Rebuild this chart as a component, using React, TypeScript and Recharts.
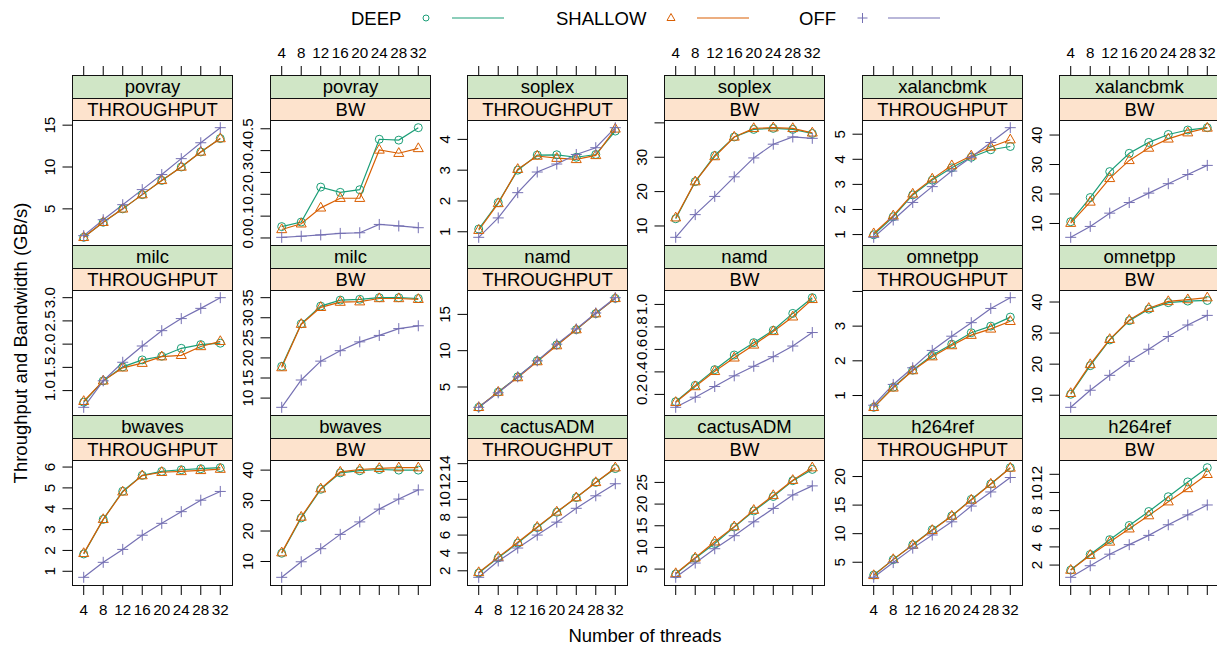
import { Line, LineChart, XAxis, YAxis } from "recharts";

const threads = [4, 8, 12, 16, 20, 24, 28, 32];

const povrayThrDeep = [1.6, 3.4, 5.0, 6.7, 8.4, 10.0, 11.8, 13.4];
const povrayThrShallow = [1.6, 3.4, 5.0, 6.7, 8.4, 10.0, 11.8, 13.4];
const povrayThrOff = [1.8, 3.7, 5.5, 7.3, 9.1, 11.0, 12.9, 14.7];
const povrayBwDeep = [0.052, 0.073, 0.233, 0.209, 0.221, 0.452, 0.448, 0.505];
const povrayBwShallow = [0.039, 0.065, 0.138, 0.182, 0.182, 0.403, 0.388, 0.41];
const povrayBwOff = [0.003, 0.008, 0.014, 0.021, 0.024, 0.062, 0.055, 0.047];

const soplexThrDeep = [1.09, 1.95, 3.0, 3.49, 3.5, 3.42, 3.51, 4.27];
const soplexThrShallow = [1.05, 1.92, 3.03, 3.46, 3.39, 3.35, 3.48, 4.34];
const soplexThrOff = [0.82, 1.45, 2.27, 2.94, 3.2, 3.51, 3.73, 4.38];
const soplexBwDeep = [12.1, 22.9, 30.5, 35.9, 38.1, 38.4, 38.1, 36.9];
const soplexBwShallow = [12.4, 22.9, 30.2, 35.9, 38.4, 38.6, 38.4, 37.1];
const soplexBwOff = [6.7, 13.3, 18.6, 24.3, 29.8, 33.8, 35.9, 35.5];

const xalanThrDeep = [0.99, 1.71, 2.58, 3.17, 3.66, 4.08, 4.38, 4.51];
const xalanThrShallow = [1.04, 1.75, 2.62, 3.22, 3.75, 4.14, 4.49, 4.78];
const xalanThrOff = [0.89, 1.58, 2.28, 2.91, 3.53, 4.08, 4.67, 5.26];
const xalanBwDeep = [10.6, 18.8, 27.6, 33.8, 37.5, 40.2, 41.7, 42.5];
const xalanBwShallow = [10.1, 17.3, 25.3, 31.4, 35.6, 38.7, 40.8, 42.4];
const xalanBwOff = [5.3, 9.0, 13.5, 17.1, 20.3, 23.5, 26.6, 29.7];

const milcThrDeep = [0.75, 1.21, 1.51, 1.66, 1.74, 1.91, 1.99, 2.02];
const milcThrShallow = [0.77, 1.21, 1.49, 1.59, 1.73, 1.76, 1.95, 2.06];
const milcThrOff = [0.64, 1.21, 1.61, 1.96, 2.29, 2.55, 2.77, 3.0];
const milcBwDeep = [17.9, 28.5, 32.9, 34.4, 34.6, 35.0, 35.0, 34.8];
const milcBwShallow = [17.6, 28.4, 32.6, 33.9, 34.0, 34.8, 34.8, 34.6];
const milcBwOff = [7.7, 14.5, 19.2, 21.8, 24.0, 25.6, 27.3, 28.0];

const namdThrDeep = [2.2, 4.3, 6.4, 8.6, 10.8, 12.9, 15.1, 17.2];
const namdThrShallow = [2.2, 4.3, 6.3, 8.5, 10.7, 12.9, 15.1, 17.2];
const namdThrOff = [2.2, 4.2, 6.4, 8.6, 10.9, 13.0, 15.2, 17.3];
const namdBwDeep = [0.135, 0.28, 0.42, 0.55, 0.66, 0.77, 0.92, 1.06];
const namdBwShallow = [0.13, 0.27, 0.405, 0.525, 0.64, 0.76, 0.89, 1.045];
const namdBwOff = [0.085, 0.175, 0.27, 0.365, 0.45, 0.535, 0.63, 0.75];

const omnetThrDeep = [0.66, 1.24, 1.73, 2.16, 2.48, 2.81, 3.0, 3.26];
const omnetThrShallow = [0.66, 1.22, 1.72, 2.12, 2.44, 2.74, 2.92, 3.14];
const omnetThrOff = [0.72, 1.32, 1.8, 2.3, 2.71, 3.1, 3.51, 3.82];
const omnetBwDeep = [10.3, 19.5, 27.8, 34.0, 37.7, 39.8, 40.3, 40.5];
const omnetBwShallow = [10.6, 19.9, 28.0, 34.2, 38.0, 40.2, 40.8, 41.4];
const omnetBwOff = [6.1, 11.6, 16.4, 20.9, 24.8, 28.9, 32.6, 35.7];

const bwavesThrDeep = [1.83, 3.49, 4.84, 5.6, 5.79, 5.87, 5.92, 5.97];
const bwavesThrShallow = [1.86, 3.49, 4.81, 5.59, 5.75, 5.79, 5.84, 5.9];
const bwavesThrOff = [0.71, 1.43, 2.05, 2.73, 3.3, 3.86, 4.41, 4.83];
const bwavesBwDeep = [12.7, 24.3, 33.7, 39.1, 39.8, 40.2, 40.0, 40.0];
const bwavesBwShallow = [12.9, 24.6, 33.9, 39.4, 40.2, 40.6, 40.8, 40.8];
const bwavesBwOff = [4.8, 9.9, 14.2, 18.9, 23.0, 27.2, 30.5, 33.5];

const cactusThrDeep = [1.75, 3.45, 5.1, 6.84, 8.55, 10.2, 11.9, 13.45];
const cactusThrShallow = [1.82, 3.53, 5.2, 6.9, 8.6, 10.2, 11.9, 13.55];
const cactusThrOff = [1.27, 3.1, 4.55, 6.0, 7.45, 9.0, 10.4, 11.75];
const cactusBwDeep = [3.87, 7.5, 10.9, 14.7, 18.4, 21.75, 25.4, 28.0];
const cactusBwShallow = [4.0, 7.6, 11.3, 14.8, 18.6, 22.0, 25.5, 28.4];
const cactusBwOff = [3.1, 6.4, 9.7, 12.7, 15.9, 19.0, 22.1, 24.2];

const h264ThrDeep = [2.76, 5.46, 8.05, 10.7, 13.1, 16.0, 18.7, 21.55];
const h264ThrShallow = [2.7, 5.5, 8.0, 10.6, 13.1, 15.9, 18.7, 21.5];
const h264ThrOff = [2.36, 4.94, 7.47, 9.77, 12.07, 14.83, 17.3, 19.83];
const h264BwDeep = [1.45, 3.16, 4.8, 6.36, 7.9, 9.53, 11.16, 12.73];
const h264BwShallow = [1.45, 3.09, 4.55, 6.0, 7.45, 8.98, 10.44, 12.0];
const h264BwOff = [0.65, 1.93, 3.2, 4.25, 5.27, 6.44, 7.53, 8.62];

// y tick values per panel
const povrayThrTicks = [5, 10, 15];
const povrayBwTicks = [0, 0.1, 0.2, 0.3, 0.4, 0.5];
const soplexThrTicks = [1, 2, 3, 4];
const soplexBwTicks = [10, 20, 30, 40];
const xalanThrTicks = [1, 2, 3, 4, 5];
const xalanBwTicks = [10, 20, 30, 40];
const milcThrTicks = [1, 1.5, 2, 2.5, 3];
const milcBwTicks = [10, 15, 20, 25, 30, 35];
const namdThrTicks = [5, 10, 15];
const namdBwTicks = [0.2, 0.4, 0.6, 0.8, 1];
const omnetThrTicks = [1, 2, 3, 4];
const omnetBwTicks = [10, 20, 30, 40];
const bwavesThrTicks = [1, 2, 3, 4, 5, 6];
const bwavesBwTicks = [10, 20, 30, 40];
const cactusThrTicks = [2, 4, 6, 8, 10, 12, 14];
const cactusBwTicks = [5, 10, 15, 20, 25];
const h264ThrTicks = [5, 10, 15, 20];
const h264BwTicks = [2, 4, 6, 8, 10, 12];

const DEEP_COL = "#1B9E77";
const SHALLOW_COL = "#D95F02";
const OFF_COL = "#7570B3";
const STRIP_TOP = "#D0E6C6";
const STRIP_BOT = "#FDE3CD";
const FONT = '"Liberation Sans", Arial, Helvetica, sans-serif';
const TICK_FS = 15.2;
const BASE_FS = 18.5;

const COL_X = [72, 270, 467, 664, 862, 1059];
const ROW_Y = [75, 245, 415];
const PLOT_W = 160;
const PLOT_H = 125;
const STRIPS_H = 45;
const TOP_SPACE = 35;
const BOTTOM_SPACE = 40;
const Y_W = 60;
const X_DOMAIN = [1.6, 34.4];

interface PanelDef {
  name: string;
  metric: string;
  deep: number[];
  shallow: number[];
  off: number[];
  ticks: number[];
  unlabeled?: number[];
}

const panels: PanelDef[] = [
  { name: "povray", metric: "THROUGHPUT", deep: povrayThrDeep, shallow: povrayThrShallow, off: povrayThrOff, ticks: povrayThrTicks },
  { name: "povray", metric: "BW", deep: povrayBwDeep, shallow: povrayBwShallow, off: povrayBwOff, ticks: povrayBwTicks },
  { name: "soplex", metric: "THROUGHPUT", deep: soplexThrDeep, shallow: soplexThrShallow, off: soplexThrOff, ticks: soplexThrTicks },
  { name: "soplex", metric: "BW", deep: soplexBwDeep, shallow: soplexBwShallow, off: soplexBwOff, ticks: soplexBwTicks, unlabeled: [40] },
  { name: "xalancbmk", metric: "THROUGHPUT", deep: xalanThrDeep, shallow: xalanThrShallow, off: xalanThrOff, ticks: xalanThrTicks },
  { name: "xalancbmk", metric: "BW", deep: xalanBwDeep, shallow: xalanBwShallow, off: xalanBwOff, ticks: xalanBwTicks },
  { name: "milc", metric: "THROUGHPUT", deep: milcThrDeep, shallow: milcThrShallow, off: milcThrOff, ticks: milcThrTicks },
  { name: "milc", metric: "BW", deep: milcBwDeep, shallow: milcBwShallow, off: milcBwOff, ticks: milcBwTicks },
  { name: "namd", metric: "THROUGHPUT", deep: namdThrDeep, shallow: namdThrShallow, off: namdThrOff, ticks: namdThrTicks },
  { name: "namd", metric: "BW", deep: namdBwDeep, shallow: namdBwShallow, off: namdBwOff, ticks: namdBwTicks },
  { name: "omnetpp", metric: "THROUGHPUT", deep: omnetThrDeep, shallow: omnetThrShallow, off: omnetThrOff, ticks: omnetThrTicks, unlabeled: [4] },
  { name: "omnetpp", metric: "BW", deep: omnetBwDeep, shallow: omnetBwShallow, off: omnetBwOff, ticks: omnetBwTicks },
  { name: "bwaves", metric: "THROUGHPUT", deep: bwavesThrDeep, shallow: bwavesThrShallow, off: bwavesThrOff, ticks: bwavesThrTicks },
  { name: "bwaves", metric: "BW", deep: bwavesBwDeep, shallow: bwavesBwShallow, off: bwavesBwOff, ticks: bwavesBwTicks },
  { name: "cactusADM", metric: "THROUGHPUT", deep: cactusThrDeep, shallow: cactusThrShallow, off: cactusThrOff, ticks: cactusThrTicks },
  { name: "cactusADM", metric: "BW", deep: cactusBwDeep, shallow: cactusBwShallow, off: cactusBwOff, ticks: cactusBwTicks },
  { name: "h264ref", metric: "THROUGHPUT", deep: h264ThrDeep, shallow: h264ThrShallow, off: h264ThrOff, ticks: h264ThrTicks },
  { name: "h264ref", metric: "BW", deep: h264BwDeep, shallow: h264BwShallow, off: h264BwOff, ticks: h264BwTicks },
];

const circleDot = (props: any) => (
  <circle key={`c${props.index}`} cx={props.cx} cy={props.cy} r={4} fill="none" stroke={DEEP_COL} strokeWidth={1} />
);

const triangleDot = (props: any) => {
  const { cx, cy } = props;
  return (
    <path
      key={`t${props.index}`}
      d={`M${cx},${cy - 5.6} L${cx + 5},${cy + 3.2} L${cx - 5},${cy + 3.2} Z`}
      fill="none"
      stroke={SHALLOW_COL}
      strokeWidth={1}
    />
  );
};

const plusDot = (props: any) => {
  const { cx, cy } = props;
  return (
    <path
      key={`p${props.index}`}
      d={`M${cx - 5.5},${cy} H${cx + 5.5} M${cx},${cy - 5.5} V${cy + 5.5}`}
      stroke={OFF_COL}
      strokeWidth={1}
    />
  );
};

const Panel = ({ p, idx }: { p: PanelDef; idx: number }) => {
  const row = Math.floor(idx / 6);
  const col = idx % 6;
  const data = threads.map((t, i) => ({ t, deep: p.deep[i], shallow: p.shallow[i], off: p.off[i] }));
  const all = [...p.deep, ...p.shallow, ...p.off];
  const lo = Math.min(...all);
  const hi = Math.max(...all);
  const pad = (hi - lo) * 0.07;
  const decimals = p.ticks.some((v) => !Number.isInteger(v)) ? 1 : 0;
  const plotTop = TOP_SPACE + STRIPS_H;
  const plotBottom = plotTop + PLOT_H;
  const left = COL_X[col];
  const top = ROW_Y[row];
  const xLabels = row === 0 ? col % 2 === 1 : col % 2 === 0;

  const yTick = (tp: any) => {
    const v = tp.payload.value;
    const show = !(p.unlabeled || []).includes(v);
    return (
      <g key={`y${v}`}>
        <line x1={Y_W - 9.5} x2={Y_W} y1={tp.y} y2={tp.y} stroke="#000" strokeWidth={1} />
        {show && (
          <text
            x={Y_W - 17}
            y={tp.y}
            transform={`rotate(-90 ${Y_W - 17} ${tp.y})`}
            textAnchor="middle"
            fontSize={TICK_FS}
            fontFamily={FONT}
            fill="#000"
          >
            {v.toFixed(decimals)}
          </text>
        )}
      </g>
    );
  };

  const xTick = (tp: any) => {
    const v = tp.payload.value;
    const onTop = row === 0;
    const y1 = onTop ? TOP_SPACE - 9 : plotBottom;
    const y2 = onTop ? TOP_SPACE : plotBottom + 10;
    const ty = onTop ? TOP_SPACE - 17 : plotBottom + 30;
    return (
      <g key={`x${v}`}>
        <line x1={tp.x} x2={tp.x} y1={y1} y2={y2} stroke="#000" strokeWidth={1} />
        {xLabels && (
          <text x={tp.x} y={ty} textAnchor="middle" fontSize={TICK_FS} fontFamily={FONT} fill="#000">
            {v}
          </text>
        )}
      </g>
    );
  };

  const topAxisH = 20;
  const margin = {
    top: row === 0 ? plotTop - topAxisH : plotTop,
    right: 1,
    left: 0,
    bottom: row === 2 ? 0 : BOTTOM_SPACE,
  };

  return (
    <>
      <div
        style={{
          position: "absolute",
          left,
          top,
          width: PLOT_W + 1,
          height: STRIPS_H + PLOT_H + 1,
          boxSizing: "border-box",
          border: "1px solid #111",
          fontFamily: FONT,
          fontSize: BASE_FS,
          color: "#000",
          textAlign: "center",
        }}
      >
        <div style={{ height: 22, lineHeight: "22px", background: STRIP_TOP, borderBottom: "1px solid #111" }}>
          {p.name}
        </div>
        <div style={{ height: 21, lineHeight: "22px", background: STRIP_BOT, borderBottom: "1px solid #111" }}>
          {p.metric}
        </div>
      </div>
      <div style={{ position: "absolute", left: left - Y_W, top: top - TOP_SPACE }}>
        <LineChart
          width={Y_W + PLOT_W + 1}
          height={TOP_SPACE + STRIPS_H + PLOT_H + BOTTOM_SPACE}
          data={data}
          margin={margin}
        >
          <XAxis
            dataKey="t"
            type="number"
            domain={X_DOMAIN}
            ticks={threads}
            interval={0}
            orientation={row === 0 ? "top" : "bottom"}
            hide={row === 1}
            height={row === 0 ? topAxisH : BOTTOM_SPACE}
            axisLine={false}
            tickLine={false}
            tick={xTick}
            allowDataOverflow
          />
          <YAxis
            type="number"
            domain={[lo - pad, hi + pad]}
            ticks={p.ticks}
            interval={0}
            width={Y_W}
            axisLine={false}
            tickLine={false}
            tick={yTick}
            allowDataOverflow
          />
          <Line dataKey="deep" stroke={DEEP_COL} strokeWidth={1.2} dot={circleDot} isAnimationActive={false} />
          <Line dataKey="shallow" stroke={SHALLOW_COL} strokeWidth={1.2} dot={triangleDot} isAnimationActive={false} />
          <Line dataKey="off" stroke={OFF_COL} strokeWidth={1.2} dot={plusDot} isAnimationActive={false} />
        </LineChart>
      </div>
    </>
  );
};

const Legend = () => (
  <g fontFamily={FONT} fontSize={BASE_FS} fill="#000">
    <text x={351} y={25}>DEEP</text>
    <circle cx={426} cy={18} r={3} fill="none" stroke={DEEP_COL} strokeWidth={1} />
    <line x1={452} x2={504} y1={18} y2={18} stroke={DEEP_COL} strokeWidth={1.2} />
    <text x={556} y={25}>SHALLOW</text>
    <path d="M671,13.5 L675,20.5 L667,20.5 Z" fill="none" stroke={SHALLOW_COL} strokeWidth={1} />
    <line x1={697} x2={749} y1={18} y2={18} stroke={SHALLOW_COL} strokeWidth={1.2} />
    <text x={799} y={25}>OFF</text>
    <path d="M857.5,18 H867.5 M862.5,13 V23" stroke={OFF_COL} strokeWidth={1} />
    <line x1={888} x2={940} y1={18} y2={18} stroke={OFF_COL} strokeWidth={1.2} />
  </g>
);

const App = () => {
  return (
    <div style={{ position: "absolute", left: 0, top: 0, width: 1217, height: 647, background: "#fff", overflow: "hidden" }}>
      <svg width={1217} height={647} style={{ position: "absolute", left: 0, top: 0 }}>
        <Legend />
        <text
          x={27}
          y={343}
          transform="rotate(-90 27 343)"
          textAnchor="middle"
          fontFamily={FONT}
          fontSize={BASE_FS}
          fill="#000"
        >
          Throughput and Bandwidth (GB/s)
        </text>
        <text x={645} y={642} textAnchor="middle" fontFamily={FONT} fontSize={BASE_FS} fill="#000">
          Number of threads
        </text>
      </svg>
      {panels.map((p, i) => (
        <Panel key={`${p.name}-${p.metric}`} p={p} idx={i} />
      ))}
    </div>
  );
};

export default App;
